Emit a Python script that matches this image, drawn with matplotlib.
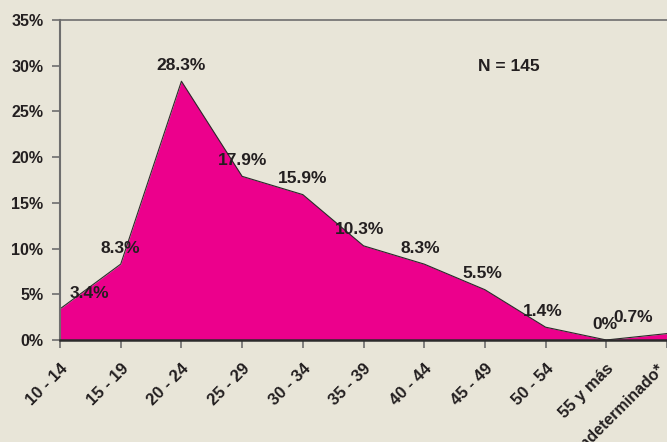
import matplotlib.pyplot as plt

plt.rcParams['font.family'] = ['Liberation Sans', 'DejaVu Sans']
plt.rcParams['font.weight'] = 'bold'

# Datos
grupos = ['10 - 14', '15 - 19', '20 - 24', '25 - 29', '30 - 34', '35 - 39',
          '40 - 44', '45 - 49', '50 - 54', '55 y más', 'Indeterminado*']
porcentaje = [3.4, 8.3, 28.3, 17.9, 15.9, 10.3, 8.3, 5.5, 1.4, 0, 0.7]
etiquetas = ['3.4%', '8.3%', '28.3%', '17.9%', '15.9%', '10.3%', '8.3%',
             '5.5%', '1.4%', '0%', '0.7%']
yticks = [0, 5, 10, 15, 20, 25, 30, 35]

fondo = '#e8e5d8'
texto = '#231f20'

fig = plt.figure(figsize=(6.67, 4.42), dpi=100, facecolor=fondo)
ax = fig.add_axes([0.09, 0.2308, 0.91, 0.724])
ax.set_facecolor(fondo)

x = list(range(len(grupos)))
ax.fill_between(x, porcentaje, 0, color='#ec008c', linewidth=0)
ax.plot(x, porcentaje, color='#2b2b2b', linewidth=0.8)

ax.set_xlim(0, 9.93)
ax.set_ylim(0, 35)

ax.set_yticks(yticks)
ax.set_yticklabels([f'{v}%' for v in yticks], fontsize=11.5, color=texto,
                   fontweight='bold')
ax.set_xticks(x)
# la ultima etiqueta se dibuja aparte, algo a la izquierda, para que se vea
ax.set_xticklabels(grupos[:-1] + [''], rotation=45, ha='right',
                   rotation_mode='anchor', fontsize=12, color=texto,
                   fontweight='bold')
ax.annotate(grupos[-1], (x[-1], 0), xycoords=('data', 'axes fraction'),
            xytext=(-7, -15), textcoords='offset points', rotation=45,
            rotation_mode='anchor', ha='right', va='top', fontsize=11.5,
            fontweight='bold', color=texto, annotation_clip=False)

ax.tick_params(axis='y', length=6, width=1.2, color='#6e6e6e', pad=6)
ax.tick_params(axis='x', length=6, width=1.2, color='#6e6e6e', pad=9)

ax.spines['right'].set_visible(False)
ax.spines['left'].set_color('#6e6e6e')
ax.spines['left'].set_linewidth(1.5)
ax.spines['top'].set_color('#6e6e6e')
ax.spines['top'].set_linewidth(1.2)
ax.spines['bottom'].set_color('#2b2b2b')
ax.spines['bottom'].set_linewidth(1.8)

# Etiquetas de valores
desplaz = [21, 0, 0, 0, 0, -3, -3, -2, -2, -1, -24]
for i, (v, t) in enumerate(zip(porcentaje, etiquetas)):
    ax.annotate(t, (i, v), xytext=(desplaz[i], 6), textcoords='offset points',
                ha='center', va='bottom', fontsize=12.5, fontweight='bold',
                color=texto, annotation_clip=False)

ax.text(7.4, 29.9, 'N = 145', ha='center', va='center', fontsize=12.5,
        fontweight='bold', color=texto)

plt.savefig('out.png', dpi=100, facecolor=fondo)
